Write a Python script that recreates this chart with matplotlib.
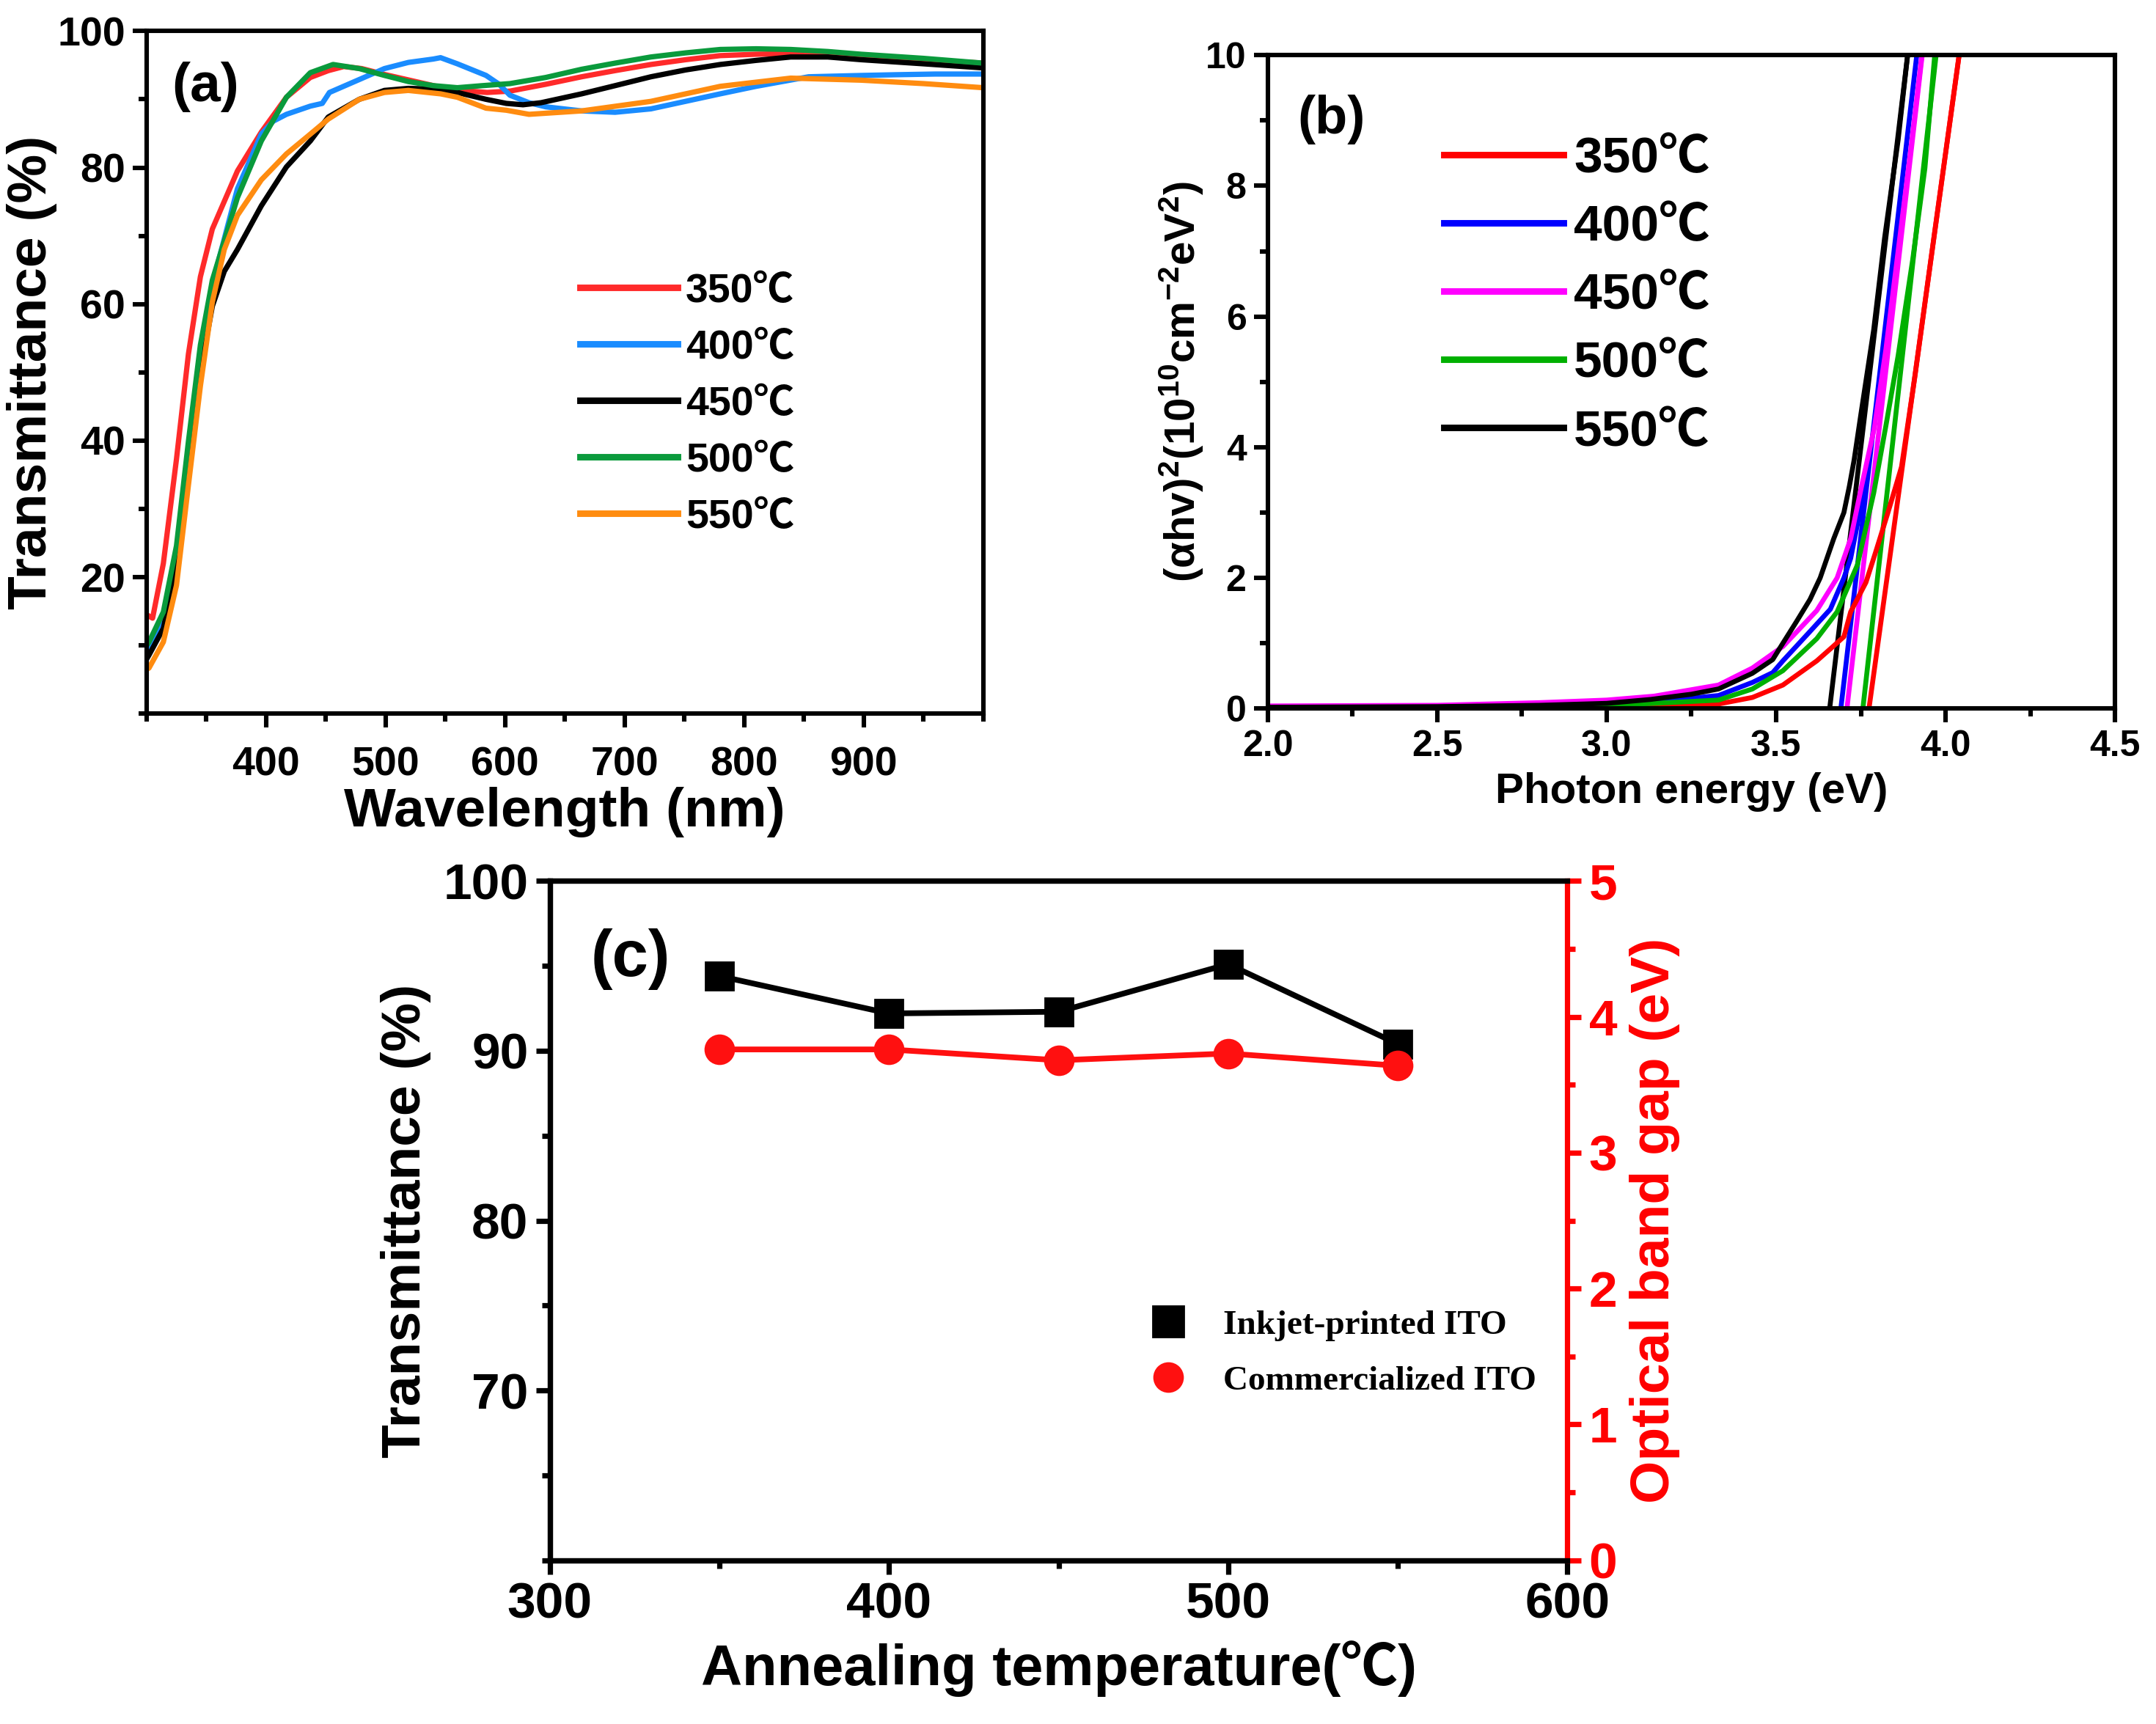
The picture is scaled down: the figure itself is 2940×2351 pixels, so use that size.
import matplotlib
matplotlib.use('Agg')
import matplotlib.pyplot as plt
from matplotlib.lines import Line2D
from matplotlib.ticker import MultipleLocator, FormatStrFormatter

plt.rcParams['font.family'] = ['Liberation Sans', 'Noto Sans CJK SC', 'DejaVu Sans']
plt.rcParams['font.weight'] = 'bold'
plt.rcParams['axes.labelweight'] = 'bold'
plt.rcParams['mathtext.fontset'] = 'custom'
plt.rcParams['mathtext.rm'] = 'Liberation Sans:bold'
plt.rcParams['mathtext.bf'] = 'Liberation Sans:bold'
plt.rcParams['mathtext.it'] = 'Liberation Sans:bold'

# ---------- (a) transmittance spectra ----------
temps = ['350℃', '400℃', '450℃', '500℃', '550℃']
colors_a = ['#ff2a2a', '#1a8cff', '#000000', '#0a9a3c', '#ff8c10']

wl_350 = [300, 305, 314, 325, 335, 345, 355, 376, 396, 417, 437, 452, 465, 480, 500, 520, 545, 570, 585,
          604, 634, 664, 692, 722, 751, 780, 810, 839, 870, 900, 950, 1000]
T_350 = [14.5, 14, 22, 37.3, 52.7, 64, 71, 79.5, 85.2, 90.3, 93.2, 94.2, 94.8, 94.5, 93.6, 92.8, 91.8, 91.2, 91,
         91.2, 92.2, 93.3, 94.2, 95.1, 95.8, 96.4, 96.6, 96.7, 96.6, 96.3, 95.8, 95.3]

wl_400 = [300, 302, 314, 325, 335, 345, 355, 376, 396, 406, 417, 437, 447, 450, 453, 478, 499, 519, 540, 546,
          560, 584, 595, 604, 620, 634, 664, 692, 722, 751, 780, 810, 854, 900, 927, 960, 1000]
T_400 = [10, 9.2, 14, 22.6, 37.3, 52, 62.9, 76.9, 84.9, 86.8, 87.8, 89, 89.4, 90.2, 91, 92.9, 94.5, 95.4, 95.9, 96.1,
         95.2, 93.5, 92.2, 90.6, 89.5, 88.9, 88.3, 88.1, 88.6, 89.7, 90.8, 91.9, 93.3, 93.5, 93.6, 93.7, 93.7]

wl_450 = [300, 302, 314, 325, 335, 345, 355, 365, 376, 396, 417, 437, 452, 478, 499, 519, 540, 560, 584, 601,
          615, 630, 664, 692, 722, 751, 780, 810, 839, 870, 898, 950, 1000]
T_450 = [8, 8.6, 12.5, 21.4, 36, 50, 59.7, 64.8, 68, 74.4, 80.1, 83.9, 87.4, 90, 91.3, 91.6, 91.5, 91, 90, 89.4,
         89.2, 89.5, 90.8, 92, 93.3, 94.3, 95.1, 95.7, 96.2, 96.2, 95.8, 95.2, 94.6]

wl_500 = [300, 302, 314, 325, 335, 345, 355, 376, 396, 417, 437, 456, 478, 499, 519, 540, 560, 581, 604, 634,
          664, 692, 722, 751, 780, 810, 839, 870, 898, 950, 1000]
T_500 = [10, 10.5, 14.9, 24.6, 39.9, 54, 63.5, 75.6, 83.9, 90.3, 93.9, 95.1, 94.5, 93.5, 92.6, 92, 91.7, 92, 92.3, 93.2,
         94.4, 95.3, 96.2, 96.8, 97.3, 97.4, 97.3, 97, 96.6, 96, 95.3]

wl_550 = [300, 302, 314, 325, 335, 345, 355, 365, 376, 396, 417, 437, 452, 478, 499, 519, 546, 560, 584, 601,
          620, 664, 722, 780, 839, 898, 950, 1000]
T_550 = [6.5, 6.7, 10.5, 18.8, 33.5, 48, 60.3, 68, 73, 78.2, 82, 84.9, 87.1, 90, 91, 91.3, 90.8, 90.3, 88.7, 88.4,
         87.8, 88.3, 89.7, 91.9, 93.1, 92.8, 92.3, 91.7]

wl_all = [wl_350, wl_400, wl_450, wl_500, wl_550]
T_all = [T_350, T_400, T_450, T_500, T_550]

# ---------- (b) Tauc plot ----------
colors_b = ['#ff0000', '#0000ff', '#ff00ff', '#00b000', '#000000']

E_350 = [2.0, 2.5, 2.8, 3.0, 3.14, 3.33, 3.43, 3.52, 3.62, 3.668, 3.70, 3.72, 3.765, 3.794, 3.83, 3.87, 3.91, 3.96, 4.0, 4.04]
A_350 = [0.01, 0.01, 0.02, 0.03, 0.05, 0.07, 0.17, 0.36, 0.73, 0.95, 1.1, 1.48, 1.93, 2.4, 3.0, 3.7, 5.1, 7.0, 8.5, 10]
E_400 = [2.0, 2.5, 2.8, 3.0, 3.14, 3.33, 3.43, 3.49, 3.52, 3.6, 3.66, 3.70, 3.72, 3.746, 3.762, 3.775]
A_400 = [0.02, 0.03, 0.05, 0.07, 0.1, 0.2, 0.4, 0.55, 0.73, 1.18, 1.52, 2.0, 2.3, 2.98, 3.4, 3.9]
E_450 = [2.0, 2.5, 2.8, 3.0, 3.14, 3.33, 3.43, 3.52, 3.62, 3.68, 3.72, 3.752, 3.79, 3.824, 3.86, 3.896, 3.93]
A_450 = [0.04, 0.05, 0.09, 0.13, 0.19, 0.36, 0.62, 0.95, 1.5, 2.0, 2.6, 3.4, 4.3, 5.5, 7.0, 8.5, 10]
E_500 = [2.0, 2.5, 2.8, 3.0, 3.14, 3.33, 3.43, 3.52, 3.62, 3.68, 3.74, 3.788, 3.824, 3.86, 3.903, 3.939, 3.968]
A_500 = [0.01, 0.02, 0.03, 0.05, 0.08, 0.13, 0.3, 0.58, 1.07, 1.48, 2.2, 3.3, 4.33, 5.4, 6.87, 8.27, 10]
E_550 = [2.0, 2.5, 2.8, 3.0, 3.13, 3.25, 3.33, 3.43, 3.49, 3.52, 3.56, 3.60, 3.63, 3.65, 3.67, 3.70, 3.716, 3.73,
         3.75, 3.788, 3.82, 3.86, 3.888]
A_550 = [0.02, 0.03, 0.05, 0.08, 0.14, 0.22, 0.3, 0.54, 0.75, 1.0, 1.33, 1.67, 2.0, 2.3, 2.6, 3.0, 3.4, 3.8,
         4.5, 5.8, 7.2, 8.7, 10]
E_all = [E_350, E_400, E_450, E_500, E_550]
A_all = [A_350, A_400, A_450, A_500, A_550]

# linear fit lines: energy at y=0 and at y=10
fit_E0 = [3.774, 3.691, 3.709, 3.756, 3.658]
fit_E10 = [4.040, 3.915, 3.931, 3.972, 3.888]
fit_A = [0, 10]

# ---------- (c) summary ----------
anneal = [350, 400, 450, 500, 550]
trans_ito = [94.4, 92.2, 92.3, 95.1, 90.4]
band_gap = [3.76, 3.76, 3.68, 3.73, 3.64]

fig = plt.figure(figsize=(14.7, 11.755), dpi=200)

def style_axes(ax, lw):
    for s in ax.spines.values():
        s.set_linewidth(lw)
    ax.tick_params(which='major', direction='out', length=7, width=lw)
    ax.tick_params(which='minor', direction='out', length=4, width=lw)

cel = ['Liberation Sans', 'Noto Sans CJK SC']

# (a)
ax1 = fig.add_axes([0.068, 0.586, 0.388, 0.396])
for wl, T, c, lab in zip(wl_all, T_all, colors_a, temps):
    ax1.plot(wl, T, color=c, lw=2.6, label=lab)
ax1.set_xlim(300, 1000)
ax1.set_ylim(0, 100)
ax1.set_xticks([400, 500, 600, 700, 800, 900])
ax1.xaxis.set_minor_locator(MultipleLocator(50))
ax1.set_yticks([20, 40, 60, 80, 100])
ax1.yaxis.set_minor_locator(MultipleLocator(10))
style_axes(ax1, 2.2)
ax1.tick_params(labelsize=20)
ax1.tick_params(axis='x', which='major', pad=9)
ax1.set_xlabel('Wavelength (nm)', fontsize=27, labelpad=1)
ax1.set_ylabel('Transmittance (%)', fontsize=27, labelpad=0)
ax1.text(0.03, 0.955, '(a)', transform=ax1.transAxes, fontsize=27, va='top')
leg1 = ax1.legend(loc='upper left', bbox_to_anchor=(0.474, 0.70), frameon=False,
                  prop={'family': cel, 'size': 20, 'weight': 'bold'},
                  handlelength=2.4, handletextpad=0.2, labelspacing=0.45)
for h in leg1.get_lines():
    h.set_linewidth(3.2)

# (b)
ax2 = fig.add_axes([0.588, 0.589, 0.393, 0.379])
for k in range(5):
    ax2.plot([fit_E0[k], fit_E10[k]], fit_A, color=colors_b[k], lw=2.4)
for E, A, c, lab in zip(E_all, A_all, colors_b, temps):
    ax2.plot(E, A, color=c, lw=2.4, label=lab)
ax2.set_xlim(2.0, 4.5)
ax2.set_ylim(0, 10)
ax2.xaxis.set_major_locator(MultipleLocator(0.5))
ax2.xaxis.set_minor_locator(MultipleLocator(0.25))
ax2.xaxis.set_major_formatter(FormatStrFormatter('%.1f'))
ax2.yaxis.set_major_locator(MultipleLocator(2))
ax2.yaxis.set_minor_locator(MultipleLocator(1))
style_axes(ax2, 2.2)
ax2.tick_params(labelsize=18)
ax2.set_xlabel('Photon energy (eV)', fontsize=21, labelpad=4)
ax2.set_ylabel(r'$\mathbf{(\alpha hv)^2(10^{10}cm^{-2}eV^2)}$', fontsize=21, labelpad=0)
ax2.text(0.035, 0.94, '(b)', transform=ax2.transAxes, fontsize=26, va='top')
leg2 = ax2.legend(loc='upper left', bbox_to_anchor=(0.154, 0.947), frameon=False,
                  prop={'family': cel, 'size': 25, 'weight': 'bold'},
                  handlelength=2.35, handletextpad=0.2, labelspacing=0.42)
for h in leg2.get_lines():
    h.set_linewidth(3.2)

# (c)
ax3 = fig.add_axes([0.255, 0.095, 0.472, 0.394])
ax3r = ax3.twinx()
ax3.plot(anneal, trans_ito, color='black', marker='s', markersize=14, lw=2.8)
ax3r.plot(anneal, band_gap, color='#ff1010', marker='o', markersize=14, lw=2.8)
ax3.set_xlim(300, 600)
ax3.set_ylim(60, 100)
ax3r.set_ylim(0, 5)
ax3.set_xticks([300, 400, 500, 600])
ax3.xaxis.set_minor_locator(MultipleLocator(50))
ax3.set_yticks([70, 80, 90, 100])
ax3.yaxis.set_minor_locator(MultipleLocator(5))
ax3r.yaxis.set_major_locator(MultipleLocator(1))
ax3r.yaxis.set_minor_locator(MultipleLocator(0.5))
style_axes(ax3, 2.6)
style_axes(ax3r, 2.6)
ax3.spines['right'].set_visible(False)
ax3r.spines['right'].set_color('red')
ax3r.tick_params(axis='y', which='both', colors='red')
ax3.tick_params(labelsize=25)
ax3r.tick_params(labelsize=25)
ax3.set_xlabel('Annealing temperature(℃)', fontsize=28, labelpad=6)
ax3.set_ylabel('Transmittance (%)', fontsize=27, labelpad=6)
ax3r.set_ylabel('Optical band gap (eV)', fontsize=27, color='red', labelpad=6)
ax3.text(0.04, 0.93, '(c)', transform=ax3.transAxes, fontsize=32, va='top')
handles = [Line2D([], [], color='black', marker='s', markersize=15, linestyle='none'),
           Line2D([], [], color='#ff1010', marker='o', markersize=14, linestyle='none')]
ax3r.legend(handles, ['Inkjet-printed ITO', 'Commercialized ITO'], loc='center left',
            bbox_to_anchor=(0.543, 0.305), frameon=False,
            prop={'family': 'Liberation Serif', 'size': 17, 'weight': 'bold'},
            handletextpad=0.6, labelspacing=0.7)

fig.savefig('out.png', dpi=200)
